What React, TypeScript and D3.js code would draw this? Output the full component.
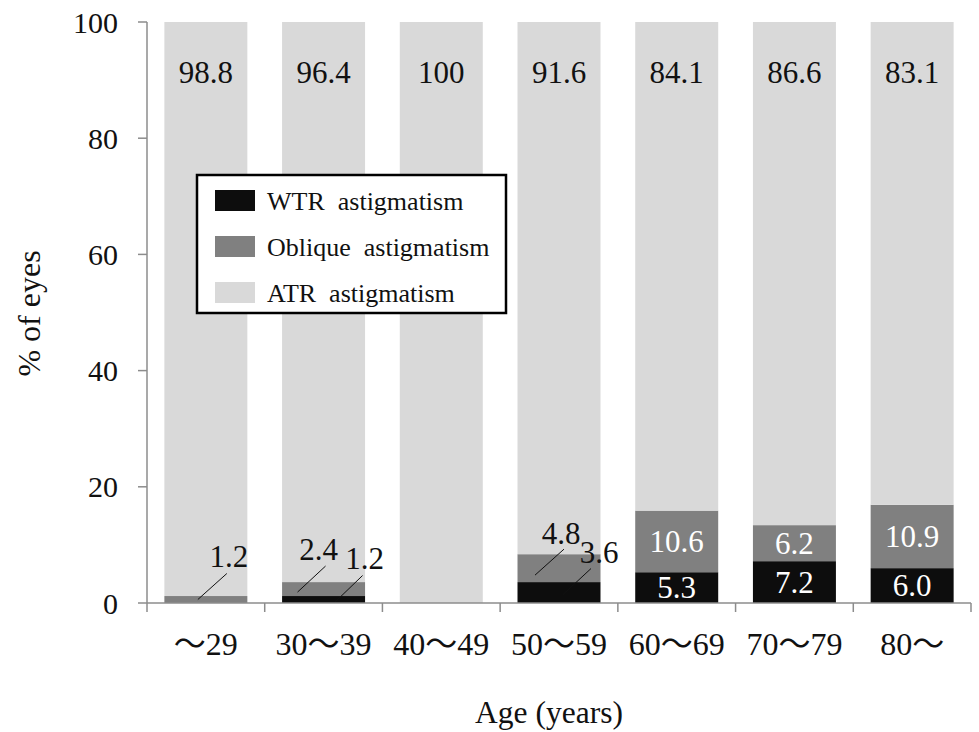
import React from "react";
import * as d3 from "d3";

const categories = ["～29", "30～39", "40～49", "50～59", "60～69", "70～79", "80～"];
const wtr = [0, 1.2, 0, 3.6, 5.3, 7.2, 6.0];
const oblique = [1.2, 2.4, 0, 4.8, 10.6, 6.2, 10.9];
const atr = [98.8, 96.4, 100, 91.6, 84.1, 86.6, 83.1];
const yTicks = [0, 20, 40, 60, 80, 100];
const seriesNames = ["WTR  astigmatism", "Oblique  astigmatism", "ATR  astigmatism"];

const W = 979, H = 732;
const M = { left: 147, right: 8, top: 22, bottom: 129 };
const colors = ["#0d0d0d", "#808080", "#d9d9d9"];
const FONT = "Liberation Serif, serif";
const CJK = "Noto Sans CJK JP";

type Leader = { cat: number; series: number; lx0: number; ly0: number; lx1: number; ly1: number; tx: number; ty: number };
const leaders: Leader[] = [
  { cat: 0, series: 1, lx0: -8, ly0: 0, lx1: 21, ly1: -26, tx: 23, ty: -43 },
  { cat: 1, series: 1, lx0: -26, ly0: 3, lx1: 2, ly1: -23, tx: -5, ty: -40 },
  { cat: 1, series: 0, lx0: 11, ly0: 3, lx1: 39, ly1: -24, tx: 41, ty: -41 },
  { cat: 3, series: 1, lx0: -24, ly0: 7, lx1: 5, ly1: -19, tx: 2, ty: -35 },
  { cat: 3, series: 0, lx0: 4, ly0: 2, lx1: 32, ly1: -24, tx: 40, ty: -40 },
];

function CatLabel({ text }: { text: string }) {
  const parts = text.split(/(～)/).filter((p) => p.length);
  return (
    <>
      {parts.map((p, i) =>
        p === "～" ? (
          <tspan key={i} style={{ fontFamily: CJK }}>{p}</tspan>
        ) : (
          <tspan key={i}>{p}</tspan>
        )
      )}
    </>
  );
}

export default function App() {
  const x = d3.scaleBand<string>().domain(categories).range([M.left, W - M.right]).paddingInner(0.295).paddingOuter(0.1475);
  const y = d3.scaleLinear().domain([0, 100]).range([H - M.bottom, M.top]);
  const rows = categories.map((c, i) => ({ cat: c, wtr: wtr[i], oblique: oblique[i], atr: atr[i] }));
  const stack = d3.stack<any>().keys(["wtr", "oblique", "atr"])(rows);
  const bw = x.bandwidth();
  const step = x.step();
  const axisColor = "#8c8c8c";
  const leaderSet = new Set(leaders.map((l) => `${l.cat}-${l.series}`));

  return (
    <svg width={W} height={H} style={{ display: "block", position: "absolute", left: 0, top: 0, background: "#fff", fontFamily: FONT }}>
      {stack.map((s, si) =>
        s.map((d, i) => {
          const h = y(d[0]) - y(d[1]);
          if (h <= 0) return null;
          return <rect key={`${si}-${i}`} x={x(categories[i])!} y={y(d[1])} width={bw} height={h} fill={colors[si]} />;
        })
      )}
      {stack.map((s, si) =>
        s.map((d, i) => {
          const v = [wtr, oblique, atr][si][i];
          if (v <= 0 || leaderSet.has(`${i}-${si}`)) return null;
          const cx = x(categories[i])! + bw / 2;
          const txt = v === 100 ? "100" : v.toFixed(1);
          if (si === 2) {
            return (
              <text key={`l${si}-${i}`} x={cx} y={y(d[1]) + 61} textAnchor="middle" fontSize={31} fill="#111">
                {txt}
              </text>
            );
          }
          const cy = (y(d[0]) + y(d[1])) / 2;
          return (
            <text key={`l${si}-${i}`} x={cx} y={cy} dy="0.35em" textAnchor="middle" fontSize={31} fill="#fff">
              {txt}
            </text>
          );
        })
      )}
      {leaders.map((l, k) => {
        const d = stack[l.series][l.cat];
        const cx = x(categories[l.cat])! + bw / 2;
        const cy = (y(d[0]) + y(d[1])) / 2;
        const v = [wtr, oblique, atr][l.series][l.cat];
        return (
          <g key={`ld${k}`}>
            <line x1={cx + l.lx0} y1={cy + l.ly0} x2={cx + l.lx1} y2={cy + l.ly1} stroke="#111" strokeWidth={1} />
            <text x={cx + l.tx} y={cy + l.ty} dy="0.35em" textAnchor="middle" fontSize={31} fill="#111">
              {v.toFixed(1)}
            </text>
          </g>
        );
      })}
      <line x1={M.left} x2={M.left} y1={y(0)} y2={y(100)} stroke={axisColor} strokeWidth={1.5} />
      {yTicks.map((t) => (
        <g key={`yt${t}`}>
          <line x1={M.left - 9} x2={M.left} y1={y(t)} y2={y(t)} stroke={axisColor} strokeWidth={1.5} />
          <text x={M.left - 29} y={y(t)} dy="0.35em" textAnchor="end" fontSize={30} fill="#111">
            {t}
          </text>
        </g>
      ))}
      <line x1={M.left} x2={W - M.right} y1={y(0)} y2={y(0)} stroke={axisColor} strokeWidth={1.5} />
      {d3.range(categories.length + 1).map((k) => (
        <line key={`xt${k}`} x1={M.left + k * step} x2={M.left + k * step} y1={y(0)} y2={y(0) + 9} stroke={axisColor} strokeWidth={1.5} />
      ))}
      {categories.map((c) => (
        <text key={`xl${c}`} x={x(c)! + bw / 2} y={y(0) + 52} textAnchor="middle" fontSize={32} fill="#111">
          <CatLabel text={c} />
        </text>
      ))}
      <text x={549} y={723} textAnchor="middle" fontSize={31.5} fill="#111">
        Age (years)
      </text>
      <text transform={`translate(40, ${(y(0) + y(100)) / 2 + 1}) rotate(-90)`} textAnchor="middle" fontSize={32} fill="#111">
        % of eyes
      </text>
      <g>
        <rect x={197} y={175} width={309} height={138} fill="#fff" stroke="#000" strokeWidth={2.5} />
        {seriesNames.map((n, i) => (
          <g key={`lg${i}`}>
            <rect x={215} y={190 + i * 46} width={40} height={21} fill={colors[i]} />
            <text x={267} y={200.5 + i * 46} dy="0.35em" fontSize={26} fill="#111" style={{ whiteSpace: "pre" }}>
              {n}
            </text>
          </g>
        ))}
      </g>
    </svg>
  );
}
